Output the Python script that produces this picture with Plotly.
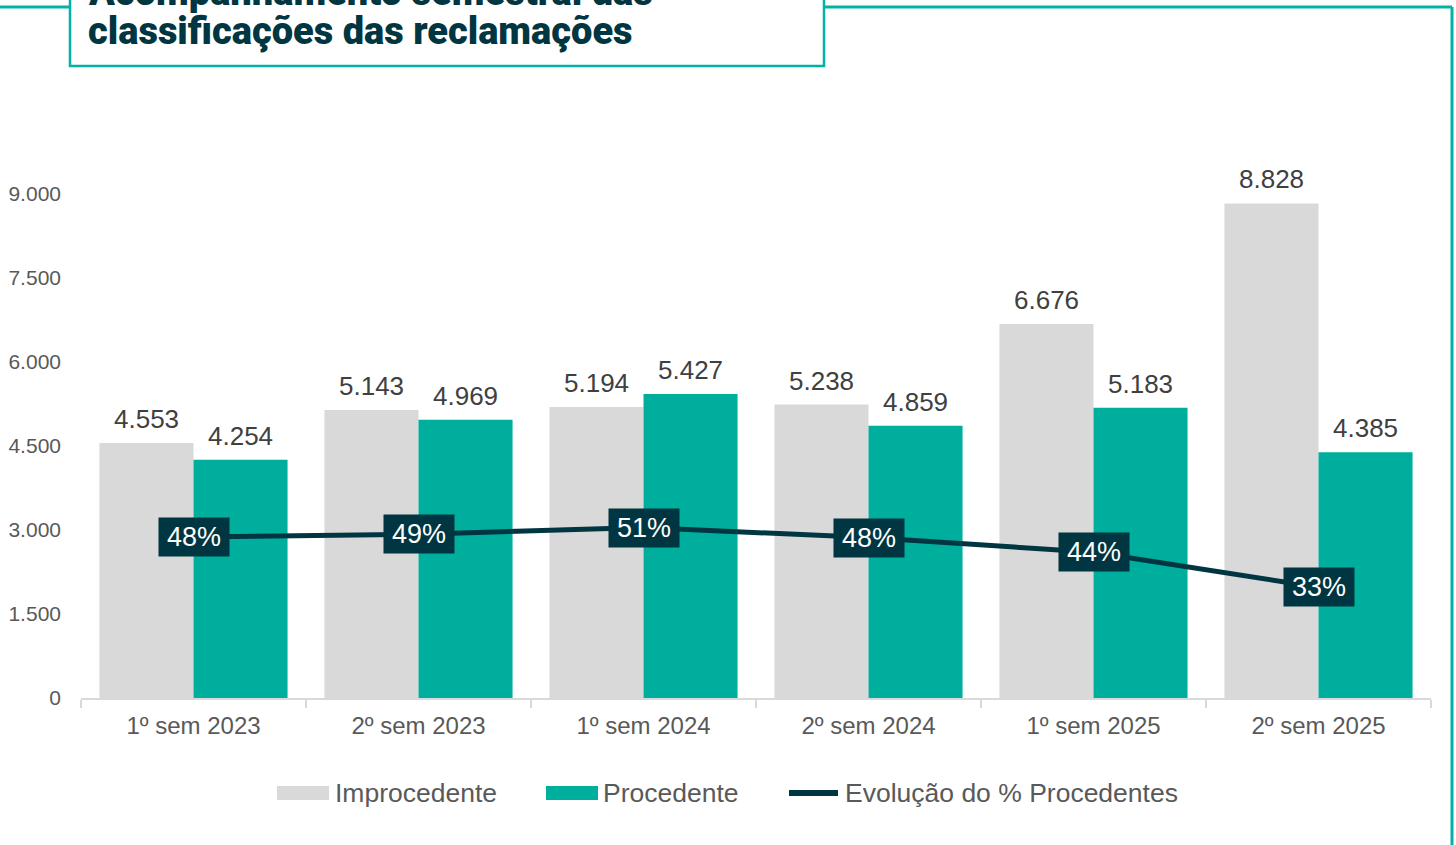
import plotly.graph_objects as go

categories = ["1º sem 2023", "2º sem 2023", "1º sem 2024", "2º sem 2024", "1º sem 2025", "2º sem 2025"]
improcedente = [4553, 5143, 5194, 5238, 6676, 8828]
procedente = [4254, 4969, 5427, 4859, 5183, 4385]
pct_procedentes = [0.483, 0.491, 0.511, 0.481, 0.437, 0.332]
y_ticks = [0, 1500, 3000, 4500, 6000, 7500, 9000]

GREY = "#d9d9d9"
TEAL = "#00ae9d"
DARK = "#003641"
BORDER = "#00b3a4"
FONT = "Liberation Sans, Arial"

W, H = 1456, 845
L, R = 81, 1431          # plot area pixel x
T, B = 149, 698          # plot area pixel y

def px(p):
    return (p - L) / (R - L)

def py(p):
    return (B - p) / (B - T)

fig = go.Figure()
fig.add_trace(go.Bar(
    x=categories, y=improcedente, name="Improcedente", marker=dict(color=GREY, line=dict(width=0)),
))
fig.add_trace(go.Bar(
    x=categories, y=procedente, name="Procedente", marker=dict(color=TEAL, line=dict(width=0)),
))
fig.add_trace(go.Scatter(
    x=categories, y=pct_procedentes, name="Evolução do % Procedentes", yaxis="y2",
    mode="lines", line=dict(color=DARK, width=5), cliponaxis=False,
))

annotations = []
# bar value labels
for series, shift in ((improcedente, -47), (procedente, 47)):
    for c, v in zip(categories, series):
        annotations.append(dict(
            x=c, y=v, xref="x", yref="y", text=f"{v:,}".replace(",", "."), showarrow=False,
            xanchor="center", yanchor="bottom", xshift=shift, yshift=7,
            font=dict(family=FONT, size=26, color="#404040"),
        ))

# percentage labels
for c, v in zip(categories, pct_procedentes):
    annotations.append(dict(
        x=c, y=v, xref="x", yref="y2", text=f"{round(v*100)}%", showarrow=False,
        font=dict(family=FONT, size=27, color="white"),
        bgcolor=DARK, borderpad=3, width=64, height=32, xanchor="center", yanchor="middle",
    ))

# Title (first line clipped at top of the page, as in the original)
TITLE_FONT = dict(family="Roboto Black, Roboto", size=38, color=DARK, weight=900)
annotations.append(dict(
    x=px(86), y=py(-8), xref="paper", yref="paper", xanchor="left", yanchor="middle",
    text="<b>Acompanhamento semestral das</b>", showarrow=False, font=TITLE_FONT,
))
annotations.append(dict(
    x=px(86), y=py(31), xref="paper", yref="paper", xanchor="left", yanchor="middle",
    text="<b>classificações das reclamações</b>", showarrow=False, font=TITLE_FONT,
))

# Custom legend
leg_y = py(793)
leg_font = dict(family=FONT, size=26.5, color="#595959")
legend_items = [("Improcedente", 333), ("Procedente", 601), ("Evolução do % Procedentes", 843)]
for text, x0 in legend_items:
    annotations.append(dict(x=px(x0), y=leg_y, xref="paper", yref="paper", xanchor="left",
                            yanchor="middle", text=text, showarrow=False, font=leg_font))

shapes = [
    # top border line
    dict(type="line", xref="paper", yref="paper", x0=px(0), x1=px(1452), y0=py(7), y1=py(7),
         line=dict(color=BORDER, width=3), layer="below"),
    # right border line
    dict(type="line", xref="paper", yref="paper", x0=px(1452), x1=px(1452), y0=py(7), y1=py(850),
         line=dict(color=BORDER, width=3), layer="below"),
    # title box
    dict(type="rect", xref="paper", yref="paper", x0=px(70), x1=px(824), y0=py(-10), y1=py(66),
         line=dict(color=BORDER, width=2.5), fillcolor="white", layer="below"),
    # legend markers
    dict(type="rect", xref="paper", yref="paper", x0=px(277), x1=px(329), y0=py(786), y1=py(800),
         line=dict(width=0), fillcolor=GREY),
    dict(type="rect", xref="paper", yref="paper", x0=px(546), x1=px(598), y0=py(786), y1=py(800),
         line=dict(width=0), fillcolor=TEAL),
    dict(type="line", xref="paper", yref="paper", x0=px(789), x1=px(838), y0=leg_y, y1=leg_y,
         line=dict(color=DARK, width=6)),
]

fig.update_layout(
    width=W, height=H,
    margin=dict(l=L, r=W - R, t=T, b=H - B, pad=0, autoexpand=False),
    paper_bgcolor="white", plot_bgcolor="white",
    barmode="group", bargap=0.164, bargroupgap=0,
    separators=",.",
    showlegend=False,
    annotations=annotations, shapes=shapes,
    font=dict(family=FONT, color="#595959"),
    xaxis=dict(
        showline=True, linecolor=GREY, linewidth=1.5, showgrid=False, zeroline=False,
        ticks="outside", tickson="boundaries", ticklen=8, tickcolor=GREY, tickwidth=1.5,
        tickfont=dict(size=24, color="#595959"), ticklabelstandoff=5, automargin=False,
    ),
    yaxis=dict(
        range=[0, 9800], tickvals=y_ticks, tickformat=",", showgrid=False, zeroline=False,
        showline=False, ticks="", tickfont=dict(size=21, color="#595959"), ticklabelstandoff=19,
        automargin=False,
    ),
    yaxis2=dict(
        range=[0, 1.646], overlaying="y", side="right", visible=False, showgrid=False,
        automargin=False,
    ),
)

fig.write_html(
    "out.html",
    config={"displayModeBar": False},
    post_script="document.body.style.margin='0';document.body.style.overflow='hidden';",
)
